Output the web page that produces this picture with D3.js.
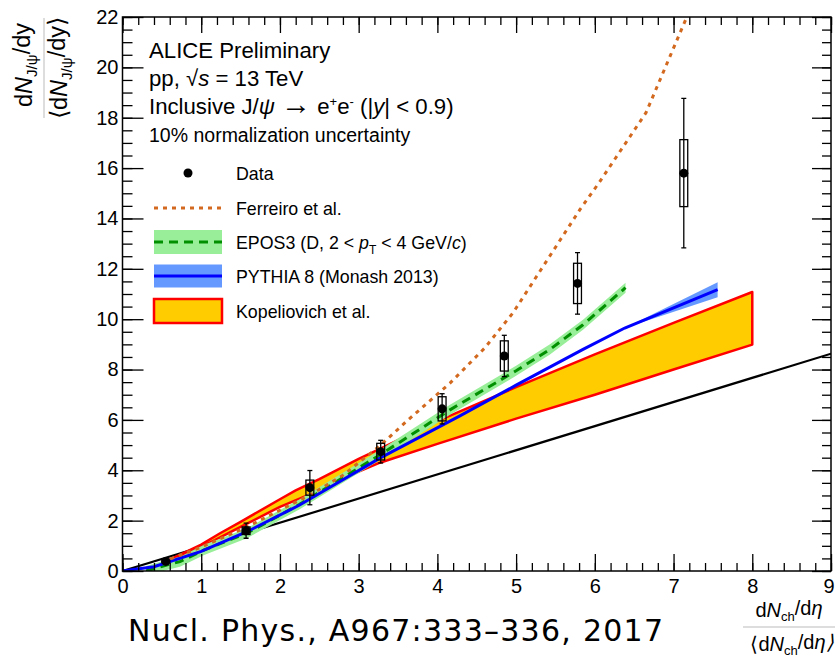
<!DOCTYPE html>
<html>
<head>
<meta charset="utf-8">
<script src="https://cdn.jsdelivr.net/npm/d3@7"></script>
<style>
  body { margin: 0; background: #fff; }
  svg { display: block; font-family: "Liberation Sans", Arial, sans-serif; }
</style>
</head>
<body>
<svg id="chart" width="835" height="657"></svg>
<script>
// data points (ALICE preliminary)
var dataX = [0.55, 1.57, 2.38, 3.28, 4.06, 4.85, 5.78, 7.13];
var dataY = [0.38, 1.6, 3.31, 4.74, 6.44, 8.54, 11.42, 15.8];
var statErr = [0.08, 0.3, 0.68, 0.45, 0.6, 0.82, 1.22, 2.97];
var systErr = [0.05, 0.15, 0.3, 0.33, 0.48, 0.6, 0.8, 1.33];

// models
var diagX = [0, 9];
var diagY = [0, 8.63];

var ferreiroX = [0.5, 1.0, 1.58, 2.4, 2.8, 3.28, 3.61, 4.16, 4.6, 4.96, 5.81, 6.06, 6.65, 7.25];
var ferreiroY = [0.35, 0.95, 1.75, 3.05, 3.8, 5.0, 5.95, 7.46, 8.85, 10.25, 14.35, 15.45, 18.2, 22.6];

var eposX = [0.3, 0.56, 0.73, 1.03, 1.58, 2.25, 3.27, 4.16, 5.0, 5.43, 5.85, 6.39];
var eposY = [0, 0.24, 0.37, 0.83, 1.5, 2.65, 4.61, 6.4, 7.95, 8.8, 9.78, 11.25];
var eposErr = 0.2;

var pythiaX = [0, 0.4, 1, 1.58, 2.25, 3.27, 4.28, 5, 5.85, 6.38, 7.56];
var pythiaY = [0, 0.17, 0.78, 1.56, 2.62, 4.48, 6.15, 7.38, 8.8, 9.65, 11.17];
var pythiaErr = [0, 0, 0, 0, 0, 0, 0, 0, 0, 0, 0.3];

var kopUpX = [0.5, 1, 1.24, 1.5, 2, 2.2, 2.5, 3, 3.27, 4, 5, 6, 7, 8];
var kopUpY = [0.3, 1.05, 1.5, 1.95, 2.85, 3.2, 3.65, 4.45, 4.85, 5.95, 7.3, 8.6, 9.85, 11.08];
var kopLoX = [0.5, 0.62, 1, 1.5, 2, 2.5, 3, 3.27, 4, 5, 6, 7, 8];
var kopLoY = [0, 0.42, 0.95, 1.75, 2.55, 3.2, 3.95, 4.3, 5.05, 6.05, 7.0, 8.0, 8.99];

var xMajor = [0, 1, 2, 3, 4, 5, 6, 7, 8, 9];
var yMajor = [0, 2, 4, 6, 8, 10, 12, 14, 16, 18, 20, 22];

var svg = d3.select("#chart");

var x = d3.scaleLinear().domain([0, 9]).range([122.5, 831]);
var y = d3.scaleLinear().domain([0, 22]).range([571, 17]);

function pts(xs, ys) { return xs.map((v, i) => [v, ys[i]]); }

var line = d3.line().x(d => x(d[0])).y(d => y(d[1]));
var area = d3.area().x(d => x(d[0])).y0(d => y(d[1])).y1(d => y(d[2]));

svg.append("clipPath").attr("id", "clip")
  .append("rect").attr("x", x(0)).attr("y", y(22))
  .attr("width", x(9) - x(0)).attr("height", y(0) - y(22));

var plot = svg.append("g").attr("clip-path", "url(#clip)");

// black reference line
plot.append("path").datum(pts(diagX, diagY))
  .attr("d", line).attr("fill", "none").attr("stroke", "#000").attr("stroke-width", 2.2);

// Kopeliovich band
var kopPoly = pts(kopUpX, kopUpY).concat(pts(kopLoX, kopLoY).reverse());
plot.append("path").datum(kopPoly)
  .attr("d", d => line(d) + "Z")
  .attr("fill", "#ffcc00").attr("stroke", "#ff0000").attr("stroke-width", 2.5)
  .attr("stroke-linejoin", "round");

// EPOS3
plot.append("path").datum(eposX.map((v, i) => [v, eposY[i] - eposErr, eposY[i] + eposErr]))
  .attr("d", area).attr("fill", "#99ee99");
plot.append("path").datum(pts(eposX, eposY))
  .attr("d", line).attr("fill", "none").attr("stroke", "#009000")
  .attr("stroke-width", 3).attr("stroke-dasharray", "9,6");

// PYTHIA 8
plot.append("path").datum(pythiaX.map((v, i) => [v, pythiaY[i] - pythiaErr[i], pythiaY[i] + pythiaErr[i]]))
  .attr("d", area).attr("fill", "#6699ff");
plot.append("path").datum(pts(pythiaX, pythiaY))
  .attr("d", line).attr("fill", "none").attr("stroke", "#0000ff").attr("stroke-width", 3);

// Ferreiro
plot.append("path").datum(pts(ferreiroX, ferreiroY))
  .attr("d", line).attr("fill", "none").attr("stroke", "#d2691e")
  .attr("stroke-width", 3).attr("stroke-dasharray", "4,5");

// data
var pd = plot.append("g").selectAll("g").data(dataX.map((v, i) => i)).enter().append("g");
pd.append("line")
  .attr("x1", i => x(dataX[i])).attr("x2", i => x(dataX[i]))
  .attr("y1", i => y(dataY[i] - statErr[i])).attr("y2", i => y(dataY[i] + statErr[i]))
  .attr("stroke", "#000").attr("stroke-width", 1.3);
[-1, 1].forEach(s => {
  pd.append("line")
    .attr("x1", i => x(dataX[i]) - 2.5).attr("x2", i => x(dataX[i]) + 2.5)
    .attr("y1", i => y(dataY[i] + s * statErr[i])).attr("y2", i => y(dataY[i] + s * statErr[i]))
    .attr("stroke", "#000").attr("stroke-width", 1.3);
});
pd.append("rect")
  .attr("x", i => x(dataX[i] - 0.05)).attr("width", i => x(dataX[i] + 0.05) - x(dataX[i] - 0.05))
  .attr("y", i => y(dataY[i] + systErr[i])).attr("height", i => y(dataY[i] - systErr[i]) - y(dataY[i] + systErr[i]))
  .attr("fill", "none").attr("stroke", "#000").attr("stroke-width", 1.3);
pd.append("circle")
  .attr("cx", i => x(dataX[i])).attr("cy", i => y(dataY[i])).attr("r", 4.5).attr("fill", "#000");

// axes
function minorTicks(lo, hi, step) {
  var out = [];
  for (var v = lo; v <= hi + 1e-9; v += step) out.push(+v.toFixed(3));
  return out;
}
var xMinor = minorTicks(0, 9, 0.2), yMinor = minorTicks(0, 22, 0.5);

function styleAxis(g) {
  g.select(".domain").remove();
  g.selectAll("line").attr("stroke", "#000").attr("stroke-width", 1.3);
  g.selectAll("text").attr("font-size", 20).attr("fill", "#000")
    .attr("font-family", "'Liberation Sans', Arial, sans-serif");
}

svg.append("g").attr("transform", "translate(0," + y(0) + ")")
  .call(d3.axisBottom(x).tickValues(xMinor).tickSize(-8).tickFormat("")).call(styleAxis);
var xAxisG = svg.append("g").attr("transform", "translate(0," + y(0) + ")")
  .call(d3.axisBottom(x).tickValues(xMajor).tickSize(-17).tickPadding(8).tickFormat(d3.format("d"))).call(styleAxis);
// last label sits at the page edge: nudge it inside
xAxisG.selectAll(".tick").filter(d => d === 9).select("text").attr("x", -2.5);
svg.append("g").attr("transform", "translate(0," + y(22) + ")")
  .call(d3.axisTop(x).tickValues(xMinor).tickSize(-8).tickFormat("")).call(styleAxis);
svg.append("g").attr("transform", "translate(0," + y(22) + ")")
  .call(d3.axisTop(x).tickValues(xMajor).tickSize(-16).tickFormat("")).call(styleAxis);

svg.append("g").attr("transform", "translate(" + x(0) + ",0)")
  .call(d3.axisLeft(y).tickValues(yMinor).tickSize(-10).tickFormat("")).call(styleAxis);
svg.append("g").attr("transform", "translate(" + x(0) + ",0)")
  .call(d3.axisLeft(y).tickValues(yMajor).tickSize(-21).tickPadding(4).tickFormat(d3.format("d"))).call(styleAxis);
svg.append("g").attr("transform", "translate(" + x(9) + ",0)")
  .call(d3.axisRight(y).tickValues(yMinor).tickSize(-9).tickFormat("")).call(styleAxis);
svg.append("g").attr("transform", "translate(" + x(9) + ",0)")
  .call(d3.axisRight(y).tickValues(yMajor).tickSize(-19).tickFormat("")).call(styleAxis);

svg.append("rect").attr("x", x(0)).attr("y", y(22))
  .attr("width", x(9) - x(0)).attr("height", y(0) - y(22))
  .attr("fill", "none").attr("stroke", "#000").attr("stroke-width", 1.5);

// header text
var head = svg.append("g").attr("fill", "#000");
head.append("text").attr("x", 149).attr("y", 58).attr("font-size", 22.2).text("ALICE Preliminary");
var t2 = head.append("text").attr("x", 149).attr("y", 86).attr("font-size", 22.2);
t2.append("tspan").text("pp, \u221A");
t2.append("tspan").attr("font-style", "italic").text("s");
t2.append("tspan").text(" = 13 TeV");
var t3 = head.append("text").attr("x", 149).attr("y", 114).attr("font-size", 22.2);
t3.append("tspan").text("Inclusive J/");
t3.append("tspan").attr("font-style", "italic").text("\u03C8");
t3.append("tspan").text(" ");
t3.append("tspan").attr("font-size", 30).text("\u2192");
t3.append("tspan").text(" e");
t3.append("tspan").attr("font-size", 13).attr("dy", -8).text("+");
t3.append("tspan").attr("dy", 8).text("e");
t3.append("tspan").attr("font-size", 13).attr("dy", -8).text("-");
t3.append("tspan").attr("dy", 8).text(" (|");
t3.append("tspan").attr("font-style", "italic").text("y");
t3.append("tspan").text("| < 0.9)");
head.append("text").attr("x", 149).attr("y", 142).attr("font-size", 19.5).text("10% normalization uncertainty");

// legend
var legY = [173, 208, 242, 276, 311];
var lx0 = 154, lx1 = 222, ltx = 236;
var leg = svg.append("g");
leg.append("circle").attr("cx", (lx0 + lx1) / 2).attr("cy", legY[0]).attr("r", 4.5).attr("fill", "#000");
leg.append("line").attr("x1", lx0).attr("x2", lx1).attr("y1", legY[1]).attr("y2", legY[1])
  .attr("stroke", "#d2691e").attr("stroke-width", 3).attr("stroke-dasharray", "4,5");
leg.append("rect").attr("x", lx0).attr("y", legY[2] - 12).attr("width", lx1 - lx0).attr("height", 24).attr("fill", "#99ee99");
leg.append("line").attr("x1", lx0).attr("x2", lx1).attr("y1", legY[2]).attr("y2", legY[2])
  .attr("stroke", "#009000").attr("stroke-width", 3).attr("stroke-dasharray", "9,6");
leg.append("rect").attr("x", lx0).attr("y", legY[3] - 11.5).attr("width", lx1 - lx0).attr("height", 23).attr("fill", "#6699ff");
leg.append("line").attr("x1", lx0).attr("x2", lx1).attr("y1", legY[3]).attr("y2", legY[3])
  .attr("stroke", "#0000ff").attr("stroke-width", 3);
leg.append("rect").attr("x", lx0).attr("y", legY[4] - 12).attr("width", lx1 - lx0).attr("height", 24)
  .attr("fill", "#ffcc00").attr("stroke", "#ff0000").attr("stroke-width", 2.5);

function legText(i) {
  return leg.append("text").attr("x", ltx).attr("y", legY[i] + 7).attr("font-size", 17.8);
}
legText(0).text("Data");
legText(1).text("Ferreiro et al.");
var le = legText(2);
le.append("tspan").text("EPOS3 (D, 2 < ");
le.append("tspan").attr("font-style", "italic").text("p");
le.append("tspan").attr("font-size", 12).attr("dy", 5).text("T");
le.append("tspan").attr("dy", -5).text(" < 4 GeV/");
le.append("tspan").attr("font-style", "italic").text("c");
le.append("tspan").text(")");
legText(3).text("PYTHIA 8 (Monash 2013)");
legText(4).text("Kopeliovich et al.");

// y axis title (fraction, rotated)
function fracText(g, pre, sub, post1, italic2, post2) {
  g.append("tspan").text(pre);
  g.append("tspan").attr("font-style", "italic").text("N");
  g.append("tspan").attr("font-size", "0.65em").attr("dy", "0.3em").text(sub);
  g.append("tspan").attr("dy", "-0.3em").text(post1);
  g.append("tspan").attr("font-style", italic2 ? "italic" : "normal").text(post2);
}
var yt = svg.append("g").attr("font-size", 23.5);
var yn = yt.append("text").attr("transform", "translate(32,65) rotate(-90)").attr("text-anchor", "middle");
fracText(yn, "d", "J/\u03C8", "/d", false, "y");
var yd = yt.append("text").attr("transform", "translate(67,68) rotate(-90)").attr("text-anchor", "middle");
fracText(yd, "\u27E8d", "J/\u03C8", "/d", false, "y\u27E9");
yt.append("line").attr("x1", 44).attr("x2", 44).attr("y1", 18).attr("y2", 118)
  .attr("stroke", "#bbb").attr("stroke-width", 1);

// x axis title
var xt = svg.append("g").attr("font-size", 20);
var xn = xt.append("text").attr("x", 789).attr("y", 617).attr("text-anchor", "middle");
fracText(xn, "d", "ch", "/d", true, "\u03B7");
var xd = xt.append("text").attr("x", 792).attr("y", 651).attr("text-anchor", "middle");
fracText(xd, "\u27E8d", "ch", "/d", true, "\u03B7\u27E9");
xt.append("line").attr("x1", 743).attr("x2", 835).attr("y1", 627).attr("y2", 627)
  .attr("stroke", "#bbb").attr("stroke-width", 1);

// citation
svg.append("text").attr("x", 128).attr("y", 641)
  .attr("font-family", "'DejaVu Sans', sans-serif").attr("font-size", 30).attr("textLength", 535)
  .text("Nucl. Phys., A967:333\u2013336, 2017");
</script>
</body>
</html>
